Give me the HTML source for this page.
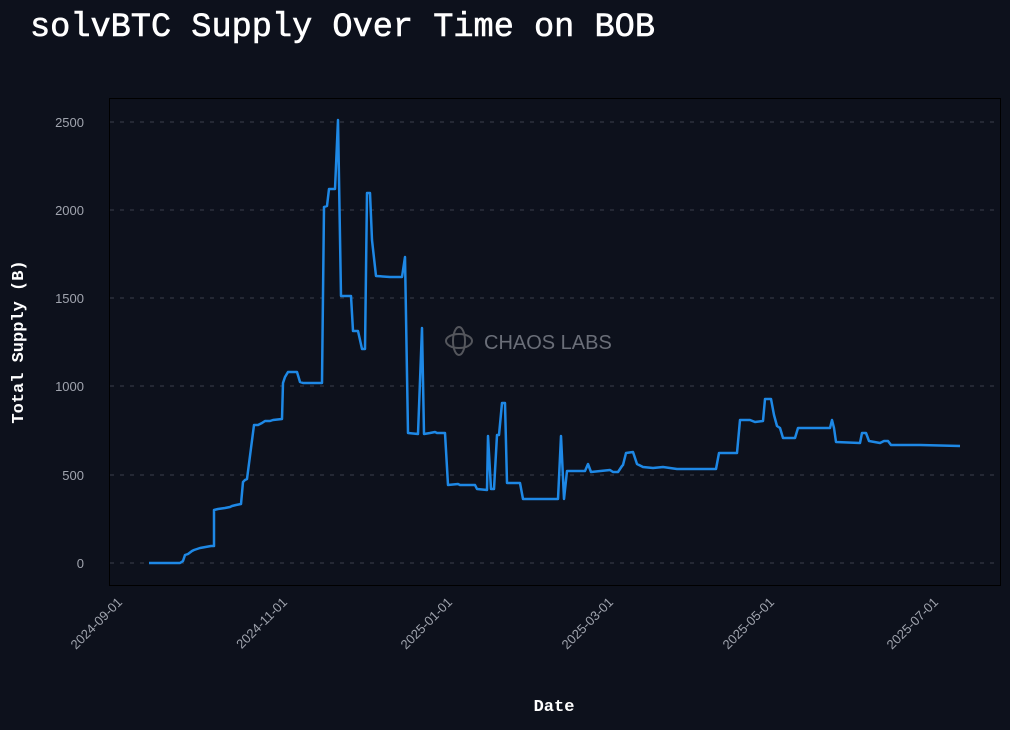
<!DOCTYPE html>
<html><head><meta charset="utf-8"><style>
html,body{margin:0;padding:0;background:#0d111c;}
body{width:1010px;height:725px;overflow:hidden;}
</style></head><body>
<svg width="1010" height="725" xmlns="http://www.w3.org/2000/svg">
<rect width="1010" height="725" fill="#0d111c"/>
<text x="30" y="36" font-family="Liberation Mono, monospace" font-size="34" fill="#ffffff" textLength="625" lengthAdjust="spacingAndGlyphs" stroke="#fff" stroke-width="0.6">solvBTC Supply Over Time on BOB</text>
<rect x="109.5" y="98.5" width="891" height="487" fill="#0d111c" stroke="#000" stroke-width="1"/>
<g stroke="#3a3f4b" stroke-width="1" stroke-dasharray="4,6">
<line x1="110" x2="1000" y1="122" y2="122"/>
<line x1="110" x2="1000" y1="210" y2="210"/>
<line x1="110" x2="1000" y1="298" y2="298"/>
<line x1="110" x2="1000" y1="386" y2="386"/>
<line x1="110" x2="1000" y1="475" y2="475"/>
<line x1="110" x2="1000" y1="563" y2="563"/>
</g>
<g font-family="Liberation Sans, sans-serif" font-size="13" fill="#a0a4ae" text-anchor="end">
<text x="84" y="127">2500</text><text x="84" y="215">2000</text><text x="84" y="303">1500</text>
<text x="84" y="391">1000</text><text x="84" y="480">500</text><text x="84" y="568">0</text>
</g>
<g font-family="Liberation Sans, sans-serif" font-size="13" fill="#a0a4ae" text-anchor="end">
<text transform="translate(123,603) rotate(-45)">2024-09-01</text>
<text transform="translate(288,603) rotate(-45)">2024-11-01</text>
<text transform="translate(453,603) rotate(-45)">2025-01-01</text>
<text transform="translate(614,603) rotate(-45)">2025-03-01</text>
<text transform="translate(775,603) rotate(-45)">2025-05-01</text>
<text transform="translate(939,603) rotate(-45)">2025-07-01</text>
</g>
<text x="554" y="711" font-family="Liberation Mono, monospace" font-size="17" font-weight="bold" fill="#fff" text-anchor="middle">Date</text>
<text transform="translate(23,342) rotate(-90)" font-family="Liberation Mono, monospace" font-size="17" font-weight="bold" fill="#fff" text-anchor="middle">Total Supply (B)</text>
<g opacity="0.45" stroke="#aaa" fill="none" stroke-width="2">
<ellipse cx="459" cy="341" rx="13" ry="7"/><ellipse cx="459" cy="341" rx="6" ry="14"/>
</g>
<text x="484" y="349" font-family="Liberation Sans, sans-serif" font-size="20" fill="#6a6e78">CHAOS LABS</text>
<polyline fill="none" stroke="#1e88e5" stroke-width="2.5" stroke-linejoin="round" points="149,563 180,563 183,561 185,555 188,554 192,551 194,550 200,548 211,546 214,546 214,510 218,509 225,508 230,507 232,506 236,505 241,504 243,482 245,480 247,479 254,425 258,425 262,423 265,421 270,421 273,420 282,419 283,383 285,377 288,372 297,372 300,382 303,383 322,383 324,207 327,206 329,189 335,189 338,120 341,296 351,296 353,331 358,331 362,349 365,349 367,193 370,193 372,240 376,276 390,277 402,277 405,257 408,433 418,434 422,328 424,434 430,433 435,432 437,433 445,433 448,485 458,484 460,485 475,485 477,489 487,490 488,436 491,489 494,489 497,435 499,435 502,403 505,403 507,483 520,483 523,499 558,499 561,436 564,499 567,471 585,471 588,464 591,472 610,470 613,472 618,472 622,466 623,465 626,453 633,452 637,464 643,467 653,468 663,467 677,469 700,469 716,469 719,453 737,453 740,420 750,420 755,422 763,421 765,399 771,399 774,415 777,426 780,428 783,438 795,438 798,428 830,428 832,420 834,428 836,442 860,443 862,433 866,433 869,441 880,443 884,441 888,441 891,445 920,445 960,446"/>
</svg>
</body></html>
